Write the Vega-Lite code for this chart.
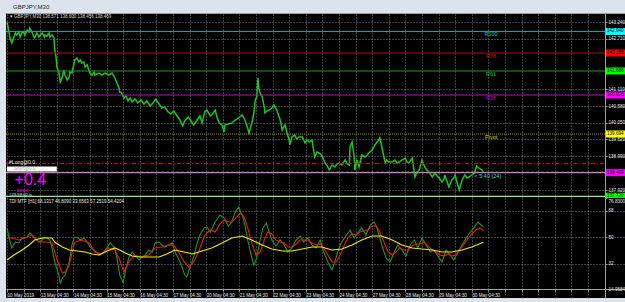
{
"$schema": "https://vega.github.io/schema/vega-lite/v6.json",
"background": "#dbe3ec",
"padding": {"left": 4, "top": 4, "right": 0, "bottom": 4},
"title": {"text": "GBPJPY,M30", "anchor": "start", "fontSize": 6, "font": "Liberation Sans", "fontWeight": "normal", "color": "#202020", "dx": 9, "offset": 3},
"spacing": 0,
"bounds": "flush",
"config": {
  "view": {"fill": "black", "stroke": null},
  "axis": {"labelFont": "Liberation Sans", "labelColor": "#e6e6e6", "gridColor": "#7a8490", "gridDash": [1, 2], "gridWidth": 1, "domainColor": "#a0a0a0", "tickColor": "#a0a0a0", "labelFontSize": 4.6, "labelOverlap": false, "tickCount": 100}
},
"datasets": {
  "price": [
    {"bar":0,"close":143.240},{"bar":3,"close":142.923},{"bar":4,"close":142.765},{"bar":7,"close":142.575},{"bar":10,"close":142.765},{"bar":12,"close":142.892},{"bar":14,"close":142.828},{"bar":17,"close":142.923},{"bar":19,"close":142.765},{"bar":22,"close":142.923},{"bar":25,"close":142.892},{"bar":26,"close":142.828},{"bar":29,"close":142.987},{"bar":32,"close":142.923},{"bar":33,"close":143.050},{"bar":36,"close":142.923},{"bar":39,"close":142.765},{"bar":40,"close":142.733},{"bar":43,"close":142.892},{"bar":46,"close":142.765},{"bar":48,"close":142.828},{"bar":51,"close":142.892},{"bar":54,"close":142.765},{"bar":55,"close":142.828},{"bar":58,"close":142.797},{"bar":61,"close":142.892},{"bar":62,"close":142.765},{"bar":65,"close":142.828},{"bar":68,"close":142.733},{"bar":69,"close":142.353},{"bar":71,"close":142.132},{"bar":72,"close":141.815},{"bar":75,"close":141.657},{"bar":77,"close":141.340},{"bar":80,"close":141.498},{"bar":82,"close":141.720},{"bar":84,"close":141.562},{"bar":87,"close":141.403},{"bar":90,"close":141.498},{"bar":91,"close":141.657},{"bar":94,"close":141.625},{"bar":97,"close":141.942},{"bar":98,"close":142.037},{"bar":101,"close":142.100},{"bar":104,"close":141.973},{"bar":106,"close":142.037},{"bar":108,"close":141.942},{"bar":111,"close":141.973},{"bar":113,"close":141.815},{"bar":116,"close":141.878},{"bar":119,"close":141.657},{"bar":120,"close":141.625},{"bar":123,"close":141.562},{"bar":126,"close":141.657},{"bar":127,"close":141.562},{"bar":133,"close":141.625},{"bar":137,"close":141.562},{"bar":142,"close":141.625},{"bar":147,"close":141.562},{"bar":152,"close":141.625},{"bar":156,"close":141.467},{"bar":159,"close":141.308},{"bar":162,"close":141.150},{"bar":163,"close":141.023},{"bar":166,"close":140.992},{"bar":169,"close":140.833},{"bar":172,"close":140.897},{"bar":175,"close":140.738},{"bar":178,"close":140.833},{"bar":181,"close":140.707},{"bar":185,"close":140.802},{"bar":189,"close":140.675},{"bar":194,"close":140.770},{"bar":198,"close":140.643},{"bar":202,"close":140.738},{"bar":207,"close":140.580},{"bar":211,"close":140.675},{"bar":215,"close":140.802},{"bar":220,"close":140.643},{"bar":224,"close":140.517},{"bar":228,"close":140.548},{"bar":233,"close":140.390},{"bar":237,"close":140.327},{"bar":241,"close":140.422},{"bar":246,"close":140.263},{"bar":250,"close":140.137},{"bar":254,"close":139.947},{"bar":257,"close":140.105},{"bar":262,"close":140.232},{"bar":266,"close":140.105},{"bar":270,"close":139.978},{"bar":275,"close":140.137},{"bar":279,"close":140.263},{"bar":282,"close":140.042},{"bar":286,"close":140.390},{"bar":289,"close":140.453},{"bar":294,"close":140.263},{"bar":296,"close":140.295},{"bar":301,"close":140.453},{"bar":304,"close":140.200},{"bar":307,"close":140.042},{"bar":311,"close":139.978},{"bar":314,"close":139.757},{"bar":315,"close":139.978},{"bar":320,"close":140.010},{"bar":325,"close":140.042},{"bar":330,"close":140.137},{"bar":335,"close":140.200},{"bar":340,"close":140.295},{"bar":344,"close":140.137},{"bar":347,"close":139.947},{"bar":350,"close":139.725},{"bar":354,"close":140.042},{"bar":357,"close":140.358},{"bar":359,"close":140.770},{"bar":361,"close":140.865},{"bar":363,"close":141.467},{"bar":364,"close":141.150},{"bar":366,"close":140.992},{"bar":369,"close":140.865},{"bar":372,"close":140.548},{"bar":373,"close":140.358},{"bar":376,"close":140.422},{"bar":379,"close":140.453},{"bar":383,"close":140.517},{"bar":386,"close":140.612},{"bar":390,"close":140.453},{"bar":393,"close":140.263},{"bar":395,"close":140.137},{"bar":398,"close":139.820},{"bar":401,"close":139.947},{"bar":402,"close":139.978},{"bar":405,"close":139.725},{"bar":408,"close":139.503},{"bar":409,"close":139.345},{"bar":412,"close":139.598},{"bar":416,"close":139.662},{"bar":419,"close":139.535},{"bar":422,"close":139.598},{"bar":427,"close":139.598},{"bar":431,"close":139.408},{"bar":434,"close":139.503},{"bar":437,"close":139.440},{"bar":441,"close":139.503},{"bar":444,"close":139.092},{"bar":445,"close":138.965},{"bar":448,"close":139.123},{"bar":451,"close":139.092},{"bar":455,"close":139.028},{"bar":458,"close":138.870},{"bar":460,"close":138.775},{"bar":463,"close":138.680},{"bar":466,"close":138.553},{"bar":470,"close":138.712},{"bar":474,"close":138.648},{"bar":477,"close":138.743},{"bar":480,"close":138.775},{"bar":484,"close":138.712},{"bar":489,"close":138.870},{"bar":492,"close":138.743},{"bar":495,"close":138.712},{"bar":496,"close":139.282},{"bar":499,"close":139.440},{"bar":502,"close":138.965},{"bar":503,"close":138.553},{"bar":506,"close":138.870},{"bar":509,"close":138.648},{"bar":513,"close":139.028},{"bar":518,"close":138.965},{"bar":521,"close":139.028},{"bar":523,"close":139.092},{"bar":528,"close":139.187},{"bar":532,"close":139.345},{"bar":535,"close":139.440},{"bar":538,"close":139.503},{"bar":539,"close":139.598},{"bar":542,"close":139.282},{"bar":545,"close":138.965},{"bar":547,"close":138.775},{"bar":549,"close":138.870},{"bar":552,"close":138.807},{"bar":557,"close":138.807},{"bar":561,"close":138.870},{"bar":564,"close":138.775},{"bar":567,"close":138.807},{"bar":571,"close":138.870},{"bar":576,"close":138.933},{"bar":578,"close":138.807},{"bar":581,"close":138.775},{"bar":586,"close":138.933},{"bar":590,"close":138.332},{"bar":593,"close":138.490},{"bar":596,"close":138.553},{"bar":600,"close":138.870},{"bar":604,"close":138.648},{"bar":607,"close":138.553},{"bar":610,"close":138.490},{"bar":615,"close":138.332},{"bar":619,"close":138.458},{"bar":622,"close":138.363},{"bar":625,"close":138.300},{"bar":629,"close":138.173},{"bar":632,"close":138.268},{"bar":633,"close":138.395},{"bar":636,"close":138.205},{"bar":639,"close":138.015},{"bar":643,"close":138.237},{"bar":646,"close":138.300},{"bar":648,"close":138.395},{"bar":651,"close":138.142},{"bar":654,"close":137.920},{"bar":658,"close":138.237},{"bar":662,"close":138.395},{"bar":665,"close":138.300},{"bar":668,"close":138.332},{"bar":672,"close":138.395},{"bar":676,"close":138.458},{"bar":679,"close":138.680},{"bar":682,"close":138.617},{"bar":687,"close":138.553},{"bar":689,"close":138.469}
  ],
  "levels": [
    {"level":"R100","price":142.940},{"level":"R78","price":142.258},{"level":"R61","price":141.688},{"level":"R38","price":140.928},{"level":"Pivot","price":139.694},{"level":"Long","price":138.760},{"level":"Short","price":138.490},{"level":"Bid","price":138.469},{"level":"Base","price":137.720}
  ],
  "rsi": [
    {"bar":0,"v":56.5},{"bar":3,"v":49.7},{"bar":7,"v":42.9},{"bar":12,"v":46.9},{"bar":17,"v":46.3},{"bar":22,"v":49.7},{"bar":29,"v":50.3},{"bar":33,"v":53.1},{"bar":39,"v":50.3},{"bar":43,"v":48.3},{"bar":48,"v":46.9},{"bar":54,"v":50.3},{"bar":58,"v":49.7},{"bar":62,"v":48.3},{"bar":65,"v":42.9},{"bar":69,"v":33.4},{"bar":75,"v":24.5},{"bar":77,"v":19.1},{"bar":80,"v":22.5},{"bar":84,"v":24.5},{"bar":90,"v":33.4},{"bar":94,"v":44.9},{"bar":97,"v":49.7},{"bar":101,"v":50.3},{"bar":106,"v":48.3},{"bar":111,"v":49.7},{"bar":116,"v":46.9},{"bar":120,"v":43.5},{"bar":126,"v":41.5},{"bar":130,"v":39.5},{"bar":134,"v":38.1},{"bar":140,"v":40.1},{"bar":145,"v":43.5},{"bar":149,"v":46.3},{"bar":155,"v":43.5},{"bar":159,"v":36.1},{"bar":163,"v":24.5},{"bar":168,"v":19.1},{"bar":171,"v":26.6},{"bar":176,"v":36.1},{"bar":181,"v":40.1},{"bar":185,"v":38.1},{"bar":191,"v":34.7},{"bar":195,"v":36.8},{"bar":200,"v":38.1},{"bar":205,"v":41.5},{"bar":210,"v":40.1},{"bar":214,"v":46.3},{"bar":220,"v":46.9},{"bar":224,"v":44.9},{"bar":228,"v":43.5},{"bar":234,"v":44.9},{"bar":239,"v":46.3},{"bar":243,"v":40.1},{"bar":249,"v":34.7},{"bar":253,"v":30.0},{"bar":257,"v":24.5},{"bar":260,"v":23.2},{"bar":265,"v":30.0},{"bar":270,"v":36.8},{"bar":275,"v":46.3},{"bar":279,"v":51.7},{"bar":285,"v":56.5},{"bar":289,"v":57.1},{"bar":294,"v":53.7},{"bar":301,"v":60.5},{"bar":308,"v":65.3},{"bar":314,"v":63.2},{"bar":320,"v":57.8},{"bar":325,"v":60.5},{"bar":330,"v":67.3},{"bar":335,"v":70.7},{"bar":340,"v":65.3},{"bar":344,"v":58.5},{"bar":348,"v":48.3},{"bar":353,"v":38.1},{"bar":357,"v":31.3},{"bar":361,"v":36.1},{"bar":366,"v":48.3},{"bar":370,"v":56.5},{"bar":375,"v":59.8},{"bar":379,"v":53.7},{"bar":383,"v":48.3},{"bar":389,"v":44.2},{"bar":395,"v":48.3},{"bar":401,"v":44.9},{"bar":406,"v":40.1},{"bar":412,"v":42.9},{"bar":418,"v":48.3},{"bar":424,"v":51.0},{"bar":429,"v":46.9},{"bar":435,"v":49.7},{"bar":441,"v":44.9},{"bar":447,"v":42.9},{"bar":453,"v":48.3},{"bar":458,"v":40.1},{"bar":464,"v":33.4},{"bar":470,"v":27.9},{"bar":474,"v":33.4},{"bar":479,"v":41.5},{"bar":484,"v":46.9},{"bar":490,"v":51.0},{"bar":496,"v":55.1},{"bar":502,"v":49.7},{"bar":508,"v":53.7},{"bar":513,"v":56.5},{"bar":519,"v":51.7},{"bar":525,"v":58.5},{"bar":531,"v":60.5},{"bar":536,"v":55.1},{"bar":542,"v":44.9},{"bar":548,"v":36.1},{"bar":554,"v":33.4},{"bar":560,"v":40.1},{"bar":565,"v":44.9},{"bar":571,"v":41.5},{"bar":577,"v":37.4},{"bar":583,"v":44.9},{"bar":589,"v":48.3},{"bar":594,"v":42.9},{"bar":600,"v":49.7},{"bar":606,"v":44.9},{"bar":612,"v":40.1},{"bar":617,"v":41.5},{"bar":623,"v":37.4},{"bar":629,"v":33.4},{"bar":635,"v":41.5},{"bar":641,"v":38.1},{"bar":646,"v":34.7},{"bar":652,"v":40.1},{"bar":658,"v":44.9},{"bar":664,"v":49.7},{"bar":670,"v":53.7},{"bar":675,"v":56.5},{"bar":681,"v":60.5},{"bar":687,"v":57.8},{"bar":689,"v":57.3}
  ],
  "signal": [
    {"bar":0,"v":49.7},{"bar":7,"v":49.7},{"bar":17,"v":48.3},{"bar":26,"v":49.7},{"bar":36,"v":51.7},{"bar":46,"v":46.9},{"bar":55,"v":46.9},{"bar":65,"v":46.3},{"bar":69,"v":40.1},{"bar":75,"v":31.3},{"bar":80,"v":25.9},{"bar":84,"v":26.6},{"bar":90,"v":31.3},{"bar":94,"v":39.5},{"bar":98,"v":46.9},{"bar":108,"v":48.3},{"bar":119,"v":46.3},{"bar":127,"v":40.1},{"bar":137,"v":38.8},{"bar":147,"v":42.9},{"bar":156,"v":41.5},{"bar":163,"v":34.7},{"bar":169,"v":26.6},{"bar":176,"v":33.4},{"bar":184,"v":38.1},{"bar":195,"v":36.8},{"bar":205,"v":38.1},{"bar":214,"v":42.9},{"bar":224,"v":43.5},{"bar":234,"v":44.9},{"bar":241,"v":44.9},{"bar":249,"v":39.5},{"bar":256,"v":33.4},{"bar":263,"v":30.0},{"bar":270,"v":33.4},{"bar":278,"v":41.5},{"bar":286,"v":51.7},{"bar":294,"v":55.1},{"bar":301,"v":53.7},{"bar":308,"v":59.2},{"bar":314,"v":61.9},{"bar":320,"v":60.5},{"bar":325,"v":60.5},{"bar":332,"v":63.9},{"bar":337,"v":66.6},{"bar":343,"v":63.9},{"bar":348,"v":56.5},{"bar":354,"v":46.3},{"bar":360,"v":38.1},{"bar":366,"v":40.1},{"bar":372,"v":48.3},{"bar":377,"v":53.7},{"bar":383,"v":52.4},{"bar":389,"v":48.3},{"bar":395,"v":46.9},{"bar":401,"v":46.3},{"bar":406,"v":43.5},{"bar":412,"v":43.5},{"bar":418,"v":45.6},{"bar":424,"v":48.3},{"bar":429,"v":48.3},{"bar":435,"v":48.3},{"bar":441,"v":46.3},{"bar":447,"v":44.9},{"bar":453,"v":45.6},{"bar":458,"v":42.9},{"bar":464,"v":38.1},{"bar":470,"v":33.4},{"bar":476,"v":33.4},{"bar":482,"v":38.1},{"bar":487,"v":44.2},{"bar":493,"v":49.7},{"bar":499,"v":52.4},{"bar":505,"v":51.7},{"bar":510,"v":53.7},{"bar":516,"v":54.4},{"bar":522,"v":55.1},{"bar":528,"v":57.8},{"bar":534,"v":57.8},{"bar":539,"v":53.7},{"bar":545,"v":46.9},{"bar":551,"v":40.1},{"bar":557,"v":38.1},{"bar":562,"v":40.1},{"bar":568,"v":42.9},{"bar":574,"v":41.5},{"bar":580,"v":41.5},{"bar":586,"v":44.2},{"bar":591,"v":45.6},{"bar":597,"v":45.6},{"bar":603,"v":46.9},{"bar":609,"v":44.2},{"bar":615,"v":41.5},{"bar":620,"v":40.1},{"bar":626,"v":38.1},{"bar":632,"v":37.4},{"bar":638,"v":38.8},{"bar":643,"v":37.4},{"bar":649,"v":38.1},{"bar":655,"v":41.5},{"bar":661,"v":45.6},{"bar":667,"v":49.7},{"bar":672,"v":52.4},{"bar":678,"v":55.1},{"bar":684,"v":56.5},{"bar":689,"v":54.4}
  ],
  "base": [
    {"bar":0,"v":34.7},{"bar":10,"v":38.1},{"bar":22,"v":41.5},{"bar":32,"v":44.9},{"bar":40,"v":48.3},{"bar":51,"v":49.7},{"bar":65,"v":49.7},{"bar":69,"v":46.9},{"bar":80,"v":43.5},{"bar":90,"v":41.5},{"bar":101,"v":40.8},{"bar":113,"v":40.1},{"bar":123,"v":38.8},{"bar":133,"v":38.1},{"bar":145,"v":40.8},{"bar":156,"v":42.9},{"bar":163,"v":41.5},{"bar":171,"v":39.5},{"bar":181,"v":37.4},{"bar":191,"v":36.8},{"bar":205,"v":36.8},{"bar":220,"v":36.8},{"bar":231,"v":38.8},{"bar":243,"v":41.5},{"bar":256,"v":40.1},{"bar":268,"v":38.8},{"bar":282,"v":40.8},{"bar":296,"v":42.9},{"bar":311,"v":46.3},{"bar":325,"v":49.7},{"bar":340,"v":51.0},{"bar":354,"v":48.3},{"bar":369,"v":44.9},{"bar":383,"v":42.2},{"bar":398,"v":40.8},{"bar":412,"v":40.8},{"bar":427,"v":42.2},{"bar":441,"v":43.5},{"bar":455,"v":43.5},{"bar":470,"v":41.5},{"bar":484,"v":42.2},{"bar":499,"v":44.9},{"bar":513,"v":48.3},{"bar":528,"v":51.0},{"bar":542,"v":51.0},{"bar":557,"v":48.3},{"bar":571,"v":44.9},{"bar":586,"v":42.9},{"bar":600,"v":42.2},{"bar":615,"v":41.5},{"bar":629,"v":40.1},{"bar":643,"v":40.1},{"bar":658,"v":41.5},{"bar":672,"v":43.5},{"bar":689,"v":46.8}
  ]
},
"vconcat": [
  {
    "width": 621,
    "height": 185,
    "resolve": {"scale": {"color": "independent", "strokeDash": "independent"}},
    "layer": [
      {
        "data": {"name": "price"},
        "mark": {"type": "line", "color": "#1fc41f", "strokeWidth": 1.5},
        "encoding": {
          "x": {"field": "bar", "type": "quantitative", "scale": {"domain": [-1.446, 896.5], "nice": false, "zero": false},
                "axis": {"orient": "top", "tickCount": 100, "values": [0,24,48,72,96,120,144,168,192,216,240,264,288,312,336,360,384,408,432,456,480,504,528,552,576,600,624,648,672,696,720,744,768,792,816,840], "labels": false, "ticks": false, "domain": true, "grid": true, "title": null}},
          "y": {"field": "close", "type": "quantitative", "scale": {"domain": [137.667, 143.525], "nice": false, "zero": false},
                "axis": {"orient": "right", "offset": -22, "tickCount": 100, "values": [143.24, 142.71, 141.11, 140.58, 140.05, 139.52, 138.99, 137.92], "format": ".3f", "tickSize": 2, "labelPadding": 1, "labelOverlap": false, "grid": true, "domain": true, "title": null}}
        }
      },
      {
        "data": {"name": "levels"},
        "mark": {"type": "rule", "strokeWidth": 1.1},
        "encoding": {
          "x": {"datum": -1.446, "type": "quantitative"},
          "x2": {"datum": 864.7},
          "y": {"field": "price", "type": "quantitative"},
          "color": {"field": "level", "type": "nominal", "legend": null,
                    "scale": {"domain": ["R100","R78","R61","R38","Pivot","Long","Short","Bid","Base"], "range": ["#14a0a0","#a01414","#14a014","#b414b4","#9a9a00","#c01010","#108a10","#c47ac4","#90ee90"]}},
          "strokeDash": {"field": "level", "type": "nominal", "legend": null,
                    "scale": {"domain": ["R100","R78","R61","R38","Pivot","Long","Short","Bid","Base"], "range": [[1,0],[1,0],[1,0],[1,0],[1,1],[4,2,1,2],[3,2],[1,0],[1,0]]}}
        }
      },
      {
        "data": {"name": "levels"},
        "transform": [{"filter": "indexof(['R100','R78','R61','R38','Pivot'], datum.level) >= 0"}],
        "mark": {"type": "text", "baseline": "top", "align": "center", "dy": 1, "fontSize": 5.5, "font": "Liberation Sans"},
        "encoding": {
          "x": {"datum": 700, "type": "quantitative"},
          "y": {"field": "price", "type": "quantitative"},
          "text": {"field": "level"},
          "color": {"field": "level", "type": "nominal", "legend": null,
                    "scale": {"domain": ["R100","R78","R61","R38","Pivot"], "range": ["#00d0d0","#e00000","#10c010","#c000c0","#d8d800"]}}
        }
      },
      {
        "data": {"name": "levels"},
        "transform": [{"filter": "datum.level != 'Long' && datum.level != 'Short'"}],
        "mark": {"type": "point", "shape": "M-6,-1L-0.15,-1L-0.15,1L-6,1Z", "filled": true, "size": 49, "opacity": 1, "strokeWidth": 0},
        "encoding": {
          "x": {"value": "width"},
          "y": {"field": "price", "type": "quantitative"},
          "color": {"field": "level", "type": "nominal", "legend": null,
                    "scale": {"domain": ["R100","R78","R61","R38","Pivot","Bid","Base"], "range": ["#00ffff","#ff0000","#00ff00","#ff00ff","#ffff00","#ff00ff","#00ff00"]}}
        }
      },
      {
        "data": {"name": "levels"},
        "transform": [{"filter": "datum.level != 'Long' && datum.level != 'Short'"}],
        "mark": {"type": "text", "align": "left", "baseline": "middle", "dx": -20, "fontSize": 4.6, "font": "Liberation Sans", "color": "black"},
        "encoding": {
          "x": {"value": "width"},
          "y": {"field": "price", "type": "quantitative"},
          "text": {"field": "price", "type": "quantitative", "format": ".3f"}
        }
      },
      {
        "data": {"values": [{"t": "▾ GBPJPY,M30  138.571 138.600 138.456 138.469"}]},
        "mark": {"type": "text", "align": "left", "baseline": "middle", "fontSize": 4.5, "font": "Liberation Sans", "color": "#d8d8d8"},
        "encoding": {"x": {"datum": 4, "type": "quantitative"}, "y": {"datum": 143.414, "type": "quantitative"}, "text": {"field": "t"}}
      },
      {
        "data": {"values": [{"t": "< 5:40 (24)"}]},
        "mark": {"type": "text", "align": "left", "baseline": "middle", "fontSize": 5.5, "font": "Liberation Sans", "color": "#33dddd"},
        "encoding": {"x": {"datum": 676, "type": "quantitative"}, "y": {"datum": 138.379, "type": "quantitative"}, "text": {"field": "t"}}
      },
      {
        "data": {"values": [{"t": "#Long@0.0"}]},
        "mark": {"type": "text", "align": "left", "baseline": "middle", "fontSize": 5, "font": "Liberation Sans", "color": "#e8e8e8"},
        "encoding": {"x": {"datum": 3, "type": "quantitative"}, "y": {"datum": 138.807, "type": "quantitative"}, "text": {"field": "t"}}
      },
      {
        "data": {"values": [{"t": "box"}]},
        "mark": {"type": "rect", "color": "white"},
        "encoding": {"x": {"datum": 0, "type": "quantitative"}, "x2": {"datum": 72}, "y": {"datum": 138.664, "type": "quantitative"}, "y2": {"datum": 138.505}}
      },
      {
        "data": {"values": [{"t": "Short@0.0"}]},
        "mark": {"type": "text", "align": "left", "baseline": "middle", "fontSize": 4.5, "font": "Liberation Sans", "color": "#a0a0a0"},
        "encoding": {"x": {"datum": 10, "type": "quantitative"}, "y": {"datum": 138.585, "type": "quantitative"}, "text": {"field": "t"}}
      },
      {
        "data": {"values": [{"t": "+0.4"}]},
        "mark": {"type": "text", "align": "left", "baseline": "middle", "fontSize": 16, "font": "Liberation Sans", "color": "#ff00ff"},
        "encoding": {"x": {"datum": 11, "type": "quantitative"}, "y": {"datum": 138.235, "type": "quantitative"}, "text": {"field": "t"}}
      },
      {
        "data": {"values": [{"t": "24.0.0"}]},
        "mark": {"type": "text", "align": "left", "baseline": "middle", "fontSize": 4.2, "font": "Liberation Sans", "color": "#ff00ff"},
        "encoding": {"x": {"datum": 14, "type": "quantitative"}, "y": {"datum": 137.9, "type": "quantitative"}, "text": {"field": "t"}}
      },
      {
        "data": {"values": [{"t": "#23:59:00 ts"}]},
        "mark": {"type": "text", "align": "left", "baseline": "middle", "fontSize": 4.2, "font": "Liberation Sans", "color": "#e8e8e8"},
        "encoding": {"x": {"datum": 3, "type": "quantitative"}, "y": {"datum": 137.75, "type": "quantitative"}, "text": {"field": "t"}}
      }
    ]
  },
  {
    "width": 621,
    "height": 100,
    "layer": [
      {
        "data": {"name": "rsi"},
        "mark": {"type": "line", "color": "#1e9a1e", "strokeWidth": 1.1},
        "encoding": {
          "x": {"field": "bar", "type": "quantitative", "scale": {"domain": [-1.446, 896.5], "nice": false, "zero": false},
                "axis": {"orient": "bottom", "offset": -9, "tickCount": 100, "values": [0,24,48,72,96,120,144,168,192,216,240,264,288,312,336,360,384,408,432,456,480,504,528,552,576,600,624,648,672,696,720,744,768,792,816,840],
                         "labelExpr": "datum.value % 48 == 0 && datum.value <= 672 ? ['10 May 2019','13 May 04:30','14 May 04:30','15 May 04:30','16 May 04:30','17 May 04:30','20 May 04:30','21 May 04:30','22 May 04:30','23 May 04:30','24 May 04:30','27 May 04:30','28 May 04:30','29 May 04:30','30 May 04:30'][datum.value / 48] : ''",
                         "labelAlign": "left", "labelBaseline": "top", "labelPadding": 1, "tickSize": 2, "labelFontSize": 4.6, "labelOverlap": false, "labelFlush": false, "grid": true, "domain": true, "title": null}},
          "y": {"field": "v", "type": "quantitative", "scale": {"domain": [8.905, 76.83], "nice": false, "zero": false},
                "axis": {"orient": "right", "offset": -22, "tickCount": 100, "values": [14.9684, 32, 50, 68, 76.83],
                         "labelExpr": "datum.value == 32 || datum.value == 50 || datum.value == 68 ? format(datum.value, 'd') : format(datum.value, '.4f')",
                         "labelFlush": true, "labelOverlap": false, "tickSize": 2, "labelPadding": 1, "grid": true, "domain": true, "title": null,
                         "gridOpacity": {"condition": {"test": "datum.value == 32 || datum.value == 50 || datum.value == 68", "value": 1}, "value": 0}}}
        }
      },
      {
        "data": {"name": "signal"},
        "mark": {"type": "line", "color": "#f01818", "strokeWidth": 1.1},
        "encoding": {"x": {"field": "bar", "type": "quantitative"}, "y": {"field": "v", "type": "quantitative"}}
      },
      {
        "data": {"name": "base"},
        "mark": {"type": "line", "color": "#eeee00", "strokeWidth": 1.1},
        "encoding": {"x": {"field": "bar", "type": "quantitative"}, "y": {"field": "v", "type": "quantitative"}}
      },
      {
        "data": {"values": [{"t": "TDI MTF [H1] 68.1317 46.8090 33.6563 57.2519 54.4204"}]},
        "mark": {"type": "text", "align": "left", "baseline": "middle", "fontSize": 4.5, "font": "Liberation Sans", "color": "#e8e8e8"},
        "encoding": {"x": {"datum": 3, "type": "quantitative"}, "y": {"datum": 74.1, "type": "quantitative"}, "text": {"field": "t"}}
      }
    ]
  }
]
}
